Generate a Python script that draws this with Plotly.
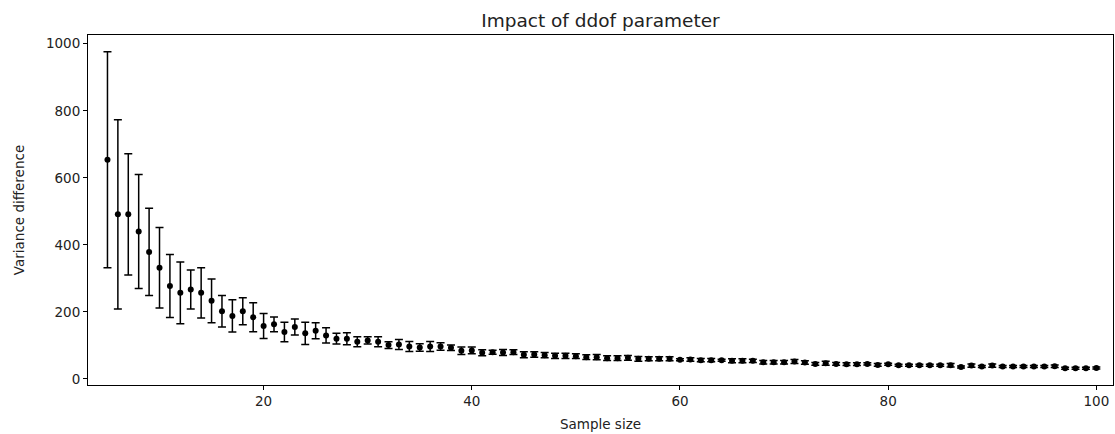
import plotly.graph_objects as go

# Sample sizes tested
sample_size = list(range(5, 101))

# Mean difference between variance estimates (ddof=1 vs ddof=0)
variance_diff = [
    654, 491, 491, 440, 379, 332, 277, 257, 267, 257,   # 5-14
    233, 202, 188, 202, 184, 158, 163, 140, 155, 136,   # 15-24
    144, 130, 120, 120, 111, 115, 111, 101, 103, 97,    # 25-34
    94, 97, 97, 93, 84, 85, 78, 80, 79, 80,             # 35-44
    72, 73, 71, 69, 69, 68, 65, 65, 62, 62,             # 45-54
    63, 60, 60, 60, 60, 57, 58, 56, 56, 56,             # 55-64
    54, 54, 54, 50, 50, 50, 52, 49, 45, 47,             # 65-74
    45, 44, 44, 45, 42, 44, 41, 41, 41, 41,             # 75-84
    41, 41, 36, 40, 37, 40, 37, 37, 37, 37,             # 85-94
    37, 38, 32, 32, 32, 33,                             # 95-100
]

# Standard deviation of the difference across repetitions
variance_diff_std = [
    322, 282, 181, 170, 130, 120, 94, 92, 58, 75,
    65, 47, 48, 40, 43, 37, 22, 29, 24, 33,
    24, 23, 16, 18, 15, 11, 15, 10, 15, 15,
    11, 15, 11, 8, 11, 10, 9, 6, 9, 7,
    9, 8, 8, 8, 8, 7, 7, 8, 7, 7,
    7, 7, 6, 6, 6, 3, 5, 5, 5, 3,
    6, 6, 5, 5, 5, 5, 6, 5, 4, 6,
    4, 4, 4, 3, 4, 3, 3, 3, 3, 3,
    3, 5, 3, 5, 3, 5, 3, 3, 3, 3,
    3, 4, 3, 3, 3, 3,
]

y_ticks = [0, 200, 400, 600, 800, 1000]
x_ticks = [20, 40, 60, 80, 100]

FONT = "DejaVu Sans"

fig = go.Figure(
    go.Scatter(
        x=sample_size,
        y=variance_diff,
        mode="markers",
        marker=dict(color="black", size=6),
        error_y=dict(
            type="data",
            array=variance_diff_std,
            visible=True,
            color="black",
            thickness=1.5,
            width=4,
        ),
        showlegend=False,
    )
)

axis_common = dict(
    showline=True,
    linecolor="black",
    linewidth=1,
    mirror=True,
    showgrid=False,
    zeroline=False,
    ticks="outside",
    ticklen=4,
    tickwidth=1,
    tickcolor="black",
    tickfont=dict(family=FONT, size=13.5, color="#222"),
)

fig.update_layout(
    width=1115,
    height=434,
    margin=dict(l=88, r=2, t=35, b=49),
    paper_bgcolor="white",
    plot_bgcolor="white",
    title=dict(
        text="Impact of ddof parameter",
        x=0.5385,
        xanchor="center",
        y=0.953,
        yanchor="middle",
        font=dict(family=FONT, size=18.5, color="#222"),
    ),
    xaxis=dict(
        **axis_common,
        range=[3.13, 101.6],
        tickvals=x_ticks,
        title=dict(text="Sample size", font=dict(family=FONT, size=13.5, color="#222"), standoff=11),
    ),
    yaxis=dict(
        **axis_common,
        range=[-18, 1026],
        tickvals=y_ticks,
        title=dict(text="Variance difference", font=dict(family=FONT, size=13.5, color="#222"), standoff=18),
    ),
)

fig.write_html("out.html")
